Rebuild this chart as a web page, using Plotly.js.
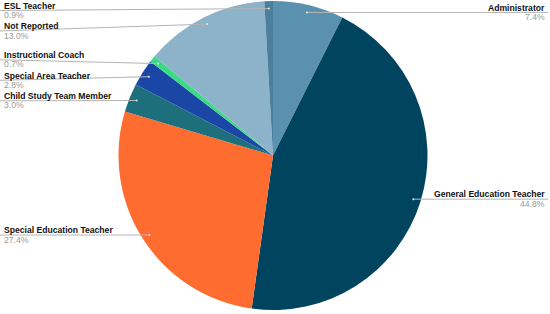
<!DOCTYPE html>
<html><head><meta charset="utf-8">
<script src="https://cdn.plot.ly/plotly-3.0.1.min.js"></script>
<style>html,body{margin:0;padding:0;background:#fff}#chart{width:550px;height:314px}</style>
</head><body><div id="chart"></div>
<script>
const categories = ["Administrator","General Education Teacher","Special Education Teacher","Child Study Team Member","Special Area Teacher","Instructional Coach","Not Reported","ESL Teacher"];
const values = [7.4,44.8,27.4,3.0,2.8,0.7,13.0,0.9];
const colors = ["#5a91af","#00445f","#fe6c2f","#1e6f7c","#1a47a6","#3dda86","#8cb3c9","#4b7f9b"];

const W=550,H=314;
const cx=273, cy=155.5, R=154.5, rDot=147;
const dom={x:[(cx-R)/W,(cx+R)/W], y:[(H-(cy+R))/H,(H-(cy-R))/H]};
const total=values.reduce((a,b)=>a+b,0);

let acc=0; const items=[];
values.forEach((v,i)=>{
  const mid=(acc+v/2)/total*2*Math.PI; acc+=v;
  const dx=cx+rDot*Math.sin(mid), dy=cy-rDot*Math.cos(mid);
  items.push({i, dx, dy, ly:dy, right:Math.sin(mid)>0});
});
function spread(list){
  list.sort((a,b)=>a.dy-b.dy);
  const gap=20.5;
  for(let it=0;it<60;it++){
    for(let k=0;k<list.length-1;k++){
      const d=list[k+1].ly-list[k].ly;
      if(d<gap){const s=(gap-d)/2; list[k].ly-=s; list[k+1].ly+=s;}
    }
    list.forEach(o=>{ if(o.ly<10.5) o.ly=10.5; });
  }
}
spread(items.filter(o=>o.right)); spread(items.filter(o=>!o.right));

const px=x=>x/W, py=y=>1-y/H;
const shapes=[], annotations=[];
const FONT='Liberation Sans, Arial, sans-serif';
items.forEach(o=>{
  const x0=o.right?548:0;
  shapes.push({type:'line',xref:'paper',yref:'paper',x0:px(x0),y0:py(o.ly),x1:px(o.dx),y1:py(o.dy),line:{color:'#b4b4b4',width:1}});
  shapes.push({type:'circle',xref:'paper',yref:'paper',x0:px(o.dx-1),x1:px(o.dx+1),y0:py(o.dy+1),y1:py(o.dy-1),fillcolor:'#e8e8e8',line:{width:0}});
  const ax=o.right?546:3, anchor=o.right?'right':'left';
  annotations.push({xref:'paper',yref:'paper',x:px(ax),y:py(o.ly-4.7),xanchor:anchor,yanchor:'middle',showarrow:false,
    text:'<b>'+categories[o.i]+'</b>',font:{family:FONT,size:8.6,color:'#111'},borderpad:0});
  annotations.push({xref:'paper',yref:'paper',x:px(ax),y:py(o.ly+4.7),xanchor:anchor,yanchor:'middle',showarrow:false,
    text:values[o.i].toFixed(1)+'%',font:{family:FONT,size:8.6,color:'#9a9a9a'},borderpad:0});
});

const data=[{type:'pie',labels:categories,values:values,sort:false,direction:'clockwise',rotation:0,
  marker:{colors:colors,line:{width:0}},textinfo:'none',hoverinfo:'label+percent',domain:dom}];
const layout={width:W,height:H,margin:{l:0,r:0,t:0,b:0},showlegend:false,paper_bgcolor:'#fff',
  shapes:shapes,annotations:annotations};
Plotly.newPlot('chart',data,layout,{displayModeBar:false,staticPlot:true});
</script></body></html>
